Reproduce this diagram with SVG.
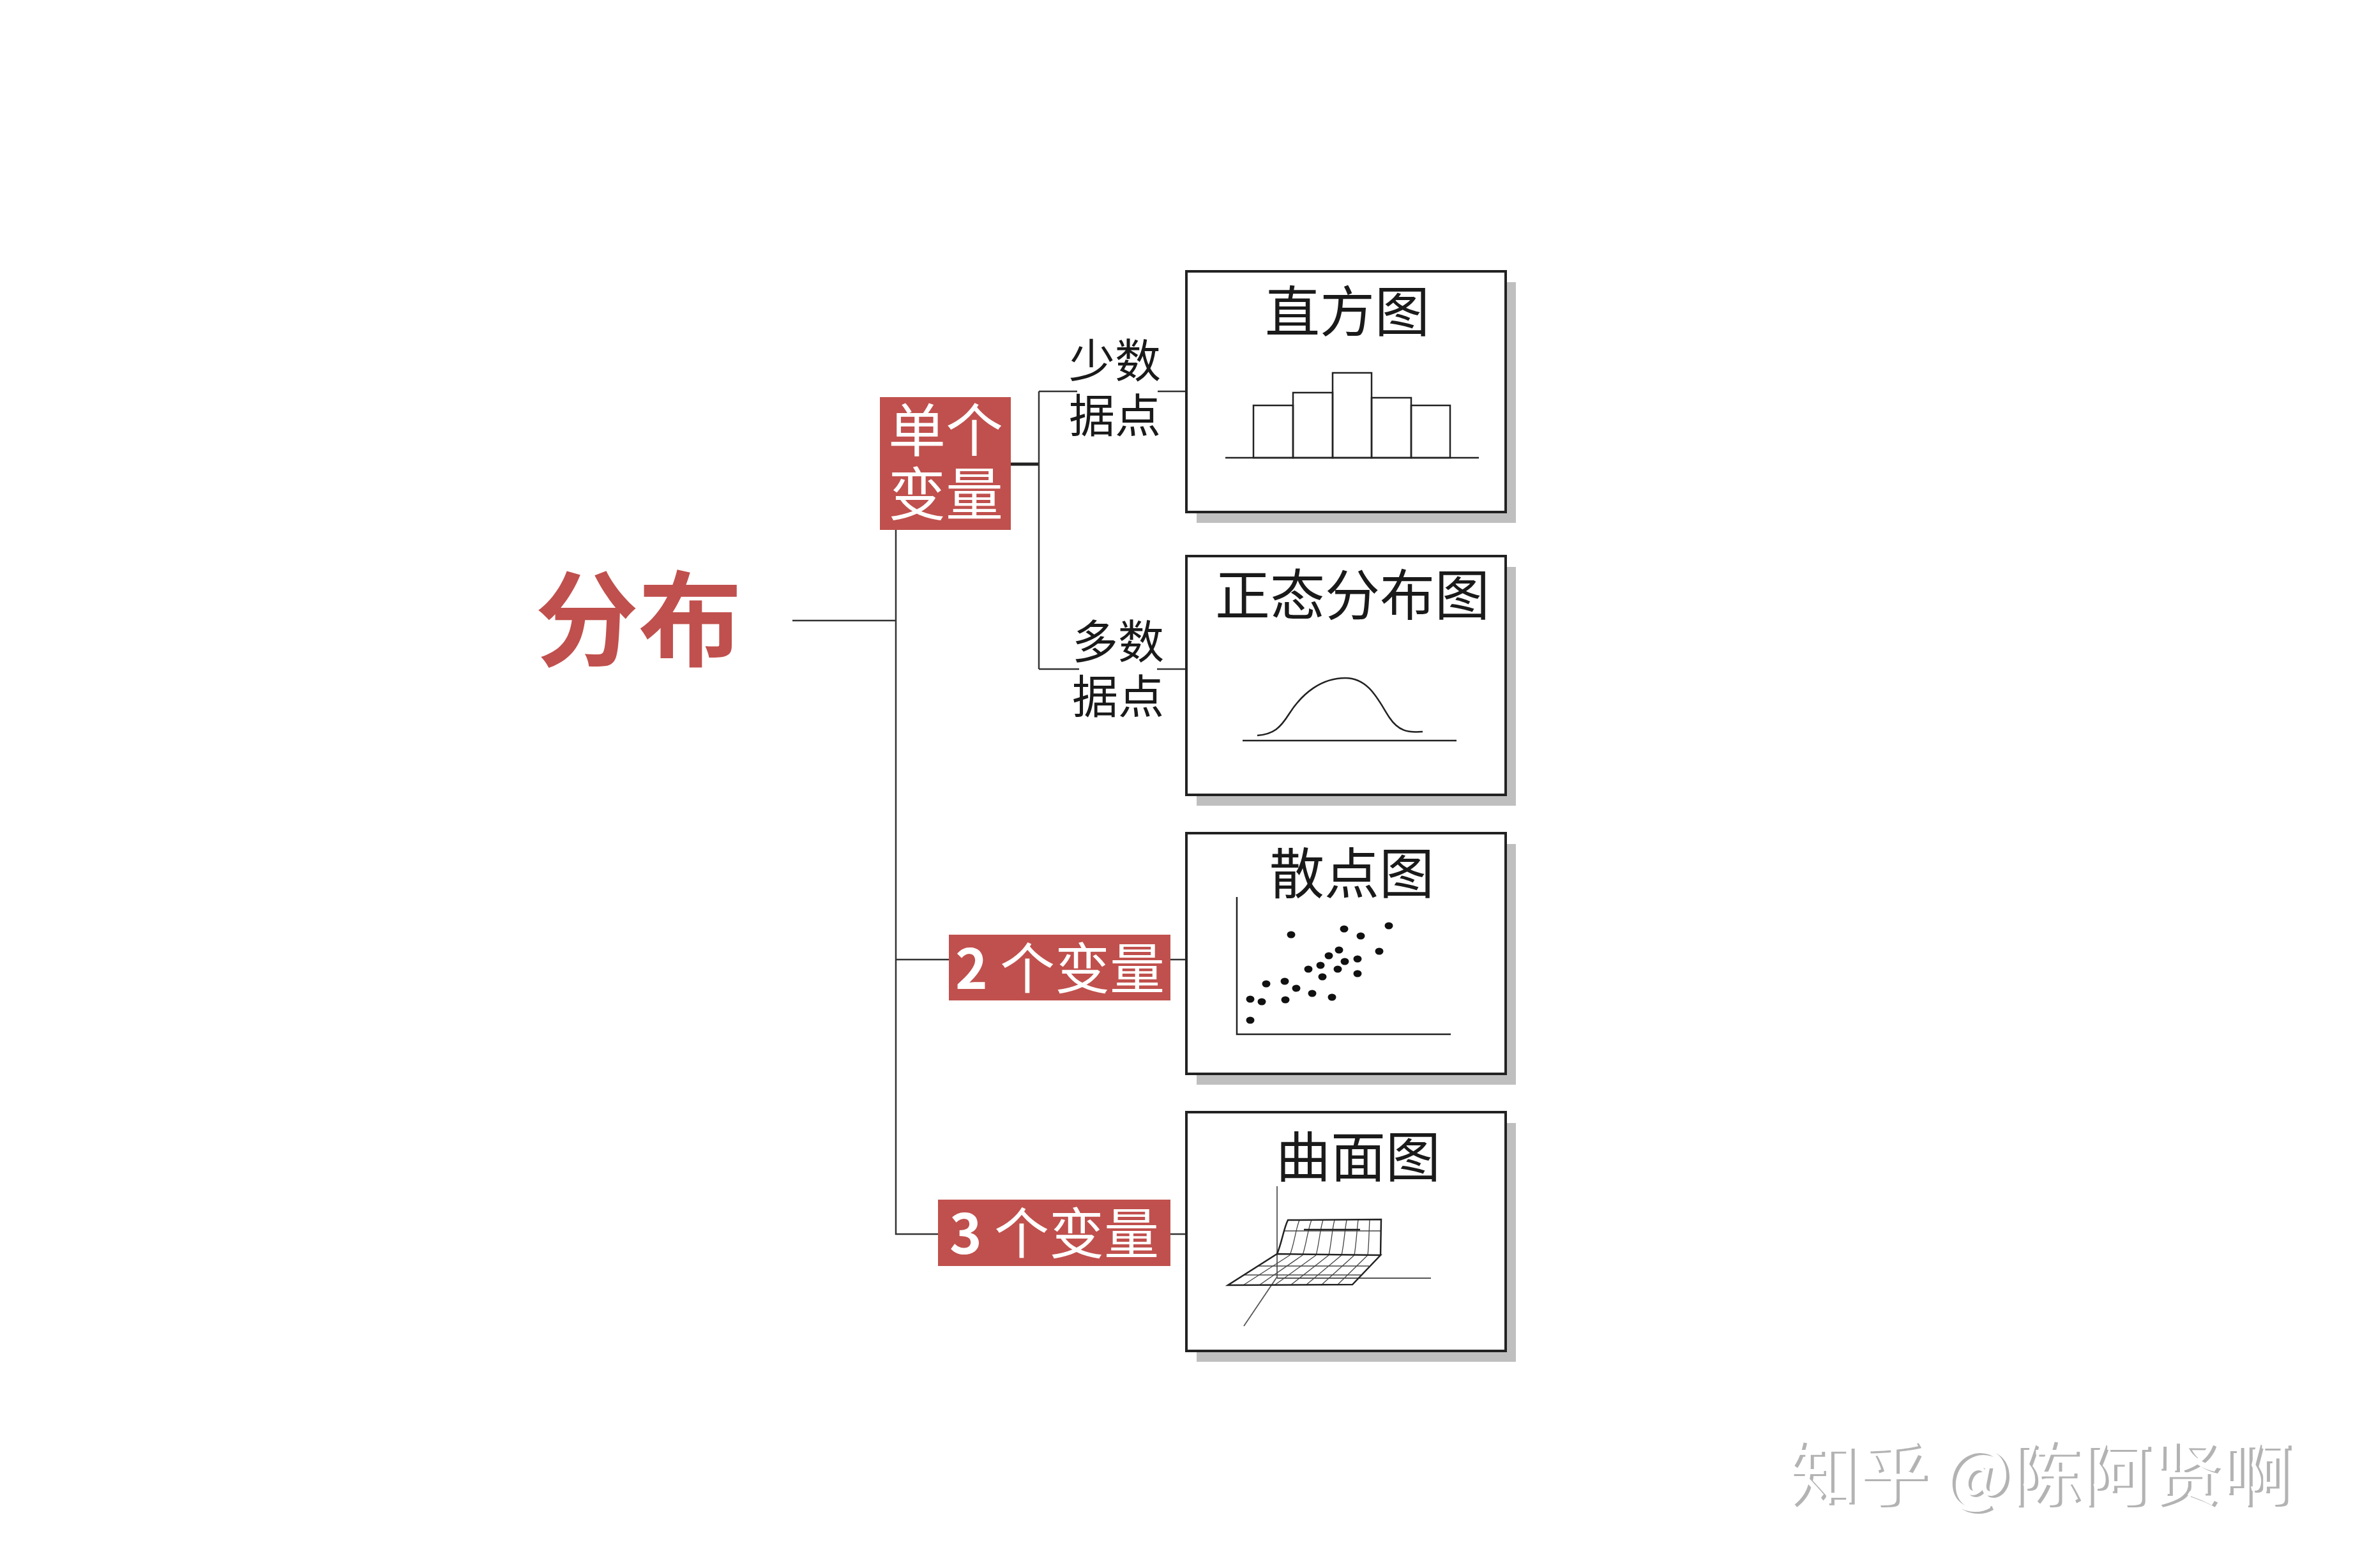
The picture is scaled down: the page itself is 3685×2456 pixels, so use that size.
<svg xmlns="http://www.w3.org/2000/svg" width="3685" height="2456" viewBox="0 0 3685 2456">
<style>
.cjk{font-family:"Noto Sans CJK SC","Noto Sans",sans-serif}
.red{fill:#C0504D}
.wt{fill:#ffffff}
.conn{stroke:#333333;stroke-width:2.5;fill:none}
.card{fill:#ffffff;stroke:#222222;stroke-width:4}
.shadow{fill:#BFBFBF}
.title{font-size:86px;fill:#1a1a1a;text-anchor:middle}
.lbl{font-size:72px;fill:#1a1a1a;text-anchor:middle}
.ink{stroke:#222222;stroke-width:2.5;fill:none}
.thin{stroke:#555555;stroke-width:1.8;fill:none}
.grid{stroke:#444444;stroke-width:1.3;fill:none}
.dot{fill:#111111}
</style>
<defs>
<filter id="wm" x="-5%" y="-20%" width="110%" height="140%">
<feFlood flood-color="#ffffff" result="w"/>
<feComposite in="w" in2="SourceAlpha" operator="in" result="wa"/>
<feOffset in="wa" dx="-5" dy="-3" result="wo"/>
<feMerge><feMergeNode in="SourceGraphic"/><feMergeNode in="wo"/></feMerge>
</filter>
</defs>
<rect width="3685" height="2456" fill="#ffffff"/>

<g id="connectors">
<line class="conn" x1="1241" y1="972" x2="1403" y2="972"/>
<polyline class="conn" points="1403,830 1403,1933 1469,1933"/>
<line class="conn" x1="1403" y1="1503" x2="1486" y2="1503"/>
<line x1="1583" y1="727" x2="1628" y2="727" stroke="#222222" stroke-width="5"/>
<line class="conn" x1="1627" y1="613" x2="1627" y2="1048"/>
<line class="conn" x1="1627" y1="613" x2="1687" y2="613"/>
<line class="conn" x1="1813" y1="613" x2="1858" y2="613"/>
<line class="conn" x1="1627" y1="1048" x2="1690" y2="1048"/>
<line class="conn" x1="1812" y1="1048" x2="1858" y2="1048"/>
<line class="conn" x1="1833" y1="1503" x2="1858" y2="1503"/>
<line class="conn" x1="1833" y1="1933" x2="1858" y2="1933"/>
</g>

<g id="root">
<text class="cjk red" x="1000" y="1031" font-size="162" font-weight="700" text-anchor="middle">分布</text>
</g>

<g id="single-var">
<rect class="red" x="1378" y="622" width="205" height="208"/>
<text class="cjk wt" font-size="90" text-anchor="middle"><tspan x="1481" y="707">单个</tspan><tspan x="1481" y="807">变量</tspan></text>
</g>

<g id="few-points">
<text class="cjk lbl"><tspan x="1746" y="591">少数</tspan><tspan x="1746" y="677">据点</tspan></text>
</g>

<g id="many-points">
<text class="cjk lbl"><tspan x="1751" y="1031">多数</tspan><tspan x="1751" y="1117">据点</tspan></text>
</g>

<g id="two-var">
<rect class="red" x="1486" y="1464" width="347" height="103"/>
<text class="cjk wt" x="1660" y="1549" font-size="86" text-anchor="middle"><tspan font-weight="700">2</tspan> 个变量</text>
</g>

<g id="three-var">
<rect class="red" x="1469" y="1879" width="364" height="104"/>
<text class="cjk wt" x="1651" y="1964" font-size="86" text-anchor="middle"><tspan font-weight="700">3</tspan> 个变量</text>
</g>

<g id="histogram">
<rect class="shadow" x="1874" y="442" width="500" height="377"/>
<rect class="card" x="1858" y="425" width="500" height="377"/>
<text class="cjk title" x="2110" y="520">直方图</text>
<line class="ink" x1="1919" y1="717" x2="2316" y2="717"/>
<rect class="ink" x="1963" y="635" width="62" height="82"/>
<rect class="ink" x="2025" y="615" width="62" height="102"/>
<rect class="ink" x="2087" y="584" width="61" height="133"/>
<rect class="ink" x="2148" y="623" width="62" height="94"/>
<rect class="ink" x="2210" y="635" width="61" height="82"/>
</g>

<g id="normal">
<rect class="shadow" x="1874" y="888" width="500" height="374"/>
<rect class="card" x="1858" y="871" width="500" height="374"/>
<text class="cjk title" x="2118" y="964">正态分布图</text>
<line class="ink" x1="1946" y1="1160" x2="2281" y2="1160"/>
<path class="ink" d="M1969,1152 C1995,1150 2005,1140 2019,1118 C2040,1085 2070,1062 2107,1062 C2145,1062 2160,1100 2176,1124 C2190,1145 2205,1148 2228,1146"/>
</g>

<g id="scatter">
<rect class="shadow" x="1874" y="1322" width="500" height="377"/>
<rect class="card" x="1858" y="1305" width="500" height="377"/>
<text class="cjk title" x="2117" y="1400">散点图</text>
<polyline class="ink" points="1937,1405 1937,1620 2272,1620"/>
<g class="dot">
<ellipse cx="1958" cy="1598" rx="6.5" ry="5.5"/>
<ellipse cx="1958" cy="1565" rx="6.5" ry="5.5"/>
<ellipse cx="1976" cy="1569" rx="6.5" ry="5.5"/>
<ellipse cx="1983" cy="1541" rx="6.5" ry="5.5"/>
<ellipse cx="2012" cy="1537" rx="6.5" ry="5.5"/>
<ellipse cx="2013" cy="1566" rx="6.5" ry="5.5"/>
<ellipse cx="2022" cy="1464" rx="6.5" ry="5.5"/>
<ellipse cx="2030" cy="1548" rx="6.5" ry="5.5"/>
<ellipse cx="2049" cy="1518" rx="6.5" ry="5.5"/>
<ellipse cx="2055" cy="1556" rx="6.5" ry="5.5"/>
<ellipse cx="2068" cy="1512" rx="6.5" ry="5.5"/>
<ellipse cx="2071" cy="1530" rx="6.5" ry="5.5"/>
<ellipse cx="2081" cy="1497" rx="6.5" ry="5.5"/>
<ellipse cx="2086" cy="1562" rx="6.5" ry="5.5"/>
<ellipse cx="2095" cy="1518" rx="6.5" ry="5.5"/>
<ellipse cx="2097" cy="1488" rx="6.5" ry="5.5"/>
<ellipse cx="2105" cy="1455" rx="6.5" ry="5.5"/>
<ellipse cx="2106" cy="1506" rx="6.5" ry="5.5"/>
<ellipse cx="2126" cy="1502" rx="6.5" ry="5.5"/>
<ellipse cx="2126" cy="1525" rx="6.5" ry="5.5"/>
<ellipse cx="2131" cy="1466" rx="6.5" ry="5.5"/>
<ellipse cx="2160" cy="1490" rx="6.5" ry="5.5"/>
<ellipse cx="2175" cy="1450" rx="6.5" ry="5.5"/>
</g>
</g>

<g id="surface">
<rect class="shadow" x="1874" y="1759" width="500" height="374"/>
<rect class="card" x="1858" y="1742" width="500" height="374"/>
<text class="cjk title" x="2127" y="1844">曲面图</text>
<line class="thin" x1="2000" y1="1858" x2="2000" y2="2002"/>
<line class="thin" x1="2000" y1="2002" x2="2241" y2="2002"/>
<line class="thin" x1="2000" y1="2000" x2="1948" y2="2077"/>
<g class="grid">
<line x1="1969" y1="1983" x2="2144" y2="1983"/>
<line x1="1947" y1="1997" x2="2131" y2="1997"/>
<line x1="1947" y1="2013" x2="2020" y2="1966"/>
<line x1="1972" y1="2013" x2="2040" y2="1966"/>
<line x1="1996" y1="2013" x2="2061" y2="1966"/>
<line x1="2021" y1="2013" x2="2081" y2="1966"/>
<line x1="2045" y1="2013" x2="2101" y2="1966"/>
<line x1="2069" y1="2013" x2="2121" y2="1966"/>
<line x1="2094" y1="2013" x2="2142" y2="1966"/>
<line x1="2012" y1="1928" x2="2162" y2="1928"/>
<path d="M2020,1966 C2027,1948 2029,1926 2035,1911"/>
<path d="M2040,1966 C2046,1948 2048,1926 2054,1911"/>
<path d="M2061,1966 C2066,1948 2067,1926 2072,1911"/>
<path d="M2081,1966 C2085,1948 2086,1926 2090,1911"/>
<path d="M2101,1966 C2105,1948 2106,1926 2109,1911"/>
<path d="M2121,1966 C2124,1948 2125,1926 2127,1911"/>
<path d="M2142,1966 C2144,1948 2144,1926 2145,1911"/>
</g>
<line x1="2042" y1="1926" x2="2130" y2="1926" stroke="#222222" stroke-width="2.5"/>
<path class="ink" d="M1923,2013 L2118,2012 L2162,1966 L2000,1964 Z"/>
<path class="ink" d="M2000,1964 C2008,1945 2010,1925 2017,1911 L2163,1910 L2162,1966"/>
</g>

<g id="watermark">
<text class="cjk" x="3199" y="2352" font-size="110" fill="#B3B3B3" text-anchor="middle" filter="url(#wm)">知乎 @陈阿贤啊</text>
</g>
</svg>
